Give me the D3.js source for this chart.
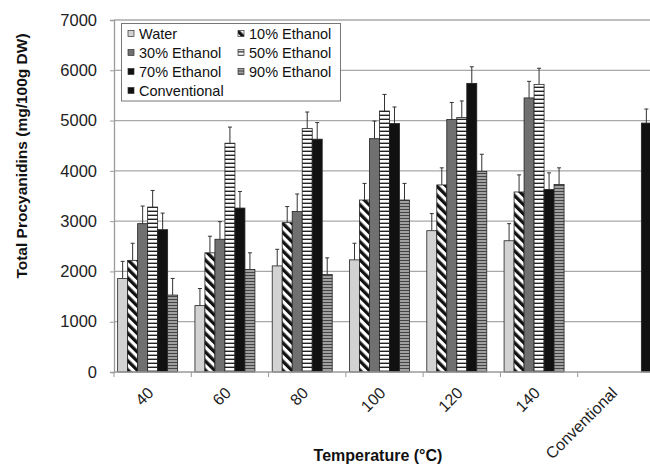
<!DOCTYPE html>
<html>
<head>
<meta charset="utf-8">
<script src="https://cdn.jsdelivr.net/npm/d3@7"></script>
<style>
  body { margin: 0; background: #fff; }
  svg { display: block; font-family: "Liberation Sans", Arial, sans-serif; }
</style>
</head>
<body>
<svg id="chart"></svg>
<script>
const W = 650, H = 465;

// data
const categories = ["40", "60", "80", "100", "120", "140", "Conventional"];
const seriesNames = ["Water", "10% Ethanol", "30% Ethanol", "50% Ethanol", "70% Ethanol", "90% Ethanol", "Conventional"];
const water     = [1860, 1320, 2110, 2230, 2810, 2610, null];
const eth10     = [2220, 2370, 2970, 3420, 3720, 3580, null];
const eth30     = [2950, 2640, 3190, 4640, 5020, 5450, null];
const eth50     = [3280, 4550, 4840, 5190, 5060, 5720, null];
const eth70     = [2830, 3260, 4630, 4940, 5740, 3630, null];
const eth90     = [1530, 2040, 1940, 3420, 3990, 3730, null];
const conv      = [null, null, null, null, null, null, 4950];
const waterErr  = [340, 340, 330, 330, 340, 340, null];
const eth10Err  = [340, 330, 320, 330, 340, 340, null];
const eth30Err  = [350, 350, 350, 350, 340, 330, null];
const eth50Err  = [330, 320, 330, 330, 330, 320, null];
const eth70Err  = [330, 330, 330, 330, 330, 330, null];
const eth90Err  = [330, 330, 330, 330, 340, 330, null];
const convErr   = [null, null, null, null, null, null, 280];
const yTicks = [0, 1000, 2000, 3000, 4000, 5000, 6000, 7000];

const values = [water, eth10, eth30, eth50, eth70, eth90, conv];
const errors = [waterErr, eth10Err, eth30Err, eth50Err, eth70Err, eth90Err, convErr];

const fills = ["#d2d2d2", "url(#diag)", "#707070", "url(#hz50)", "#111", "url(#hz90)", "#111"];

const svg = d3.select("#chart").attr("width", W).attr("height", H);

// patterns
const defs = svg.append("defs");
const pd = defs.append("pattern").attr("id", "diag").attr("patternUnits", "userSpaceOnUse")
  .attr("width", 6.5).attr("height", 6.5).attr("patternTransform", "rotate(-45)");
pd.append("rect").attr("width", 6.5).attr("height", 6.5).attr("fill", "#fff");
pd.append("rect").attr("width", 3.3).attr("height", 6.5).attr("fill", "#111");

const p5 = defs.append("pattern").attr("id", "hz50").attr("patternUnits", "userSpaceOnUse")
  .attr("width", 4).attr("height", 4);
p5.append("rect").attr("width", 4).attr("height", 4).attr("fill", "#fff");
p5.append("rect").attr("y", 2.6).attr("width", 4).attr("height", 1.4).attr("fill", "#222");

const p9 = defs.append("pattern").attr("id", "hz90").attr("patternUnits", "userSpaceOnUse")
  .attr("width", 3).attr("height", 3);
p9.append("rect").attr("width", 3).attr("height", 3).attr("fill", "#a0a0a0");
p9.append("rect").attr("y", 2).attr("width", 3).attr("height", 1).attr("fill", "#444");

// scales
const x0 = d3.scaleBand().domain(categories).range([114, 655]).padding(0);
const x1 = d3.scaleBand().domain(seriesNames).range([0, x0.bandwidth()]).paddingInner(0).paddingOuter(0.365);
const y = d3.scaleLinear().domain([0, 7000]).range([372, 20]);

// gridlines
svg.append("g").selectAll("line").data(yTicks.slice(1)).join("line")
  .attr("x1", 114).attr("x2", 655)
  .attr("y1", d => y(d)).attr("y2", d => y(d))
  .attr("stroke", "#a8a8a8").attr("stroke-width", 1.3);

// y axis
const yAxis = svg.append("g").attr("transform", "translate(114,0)")
  .call(d3.axisLeft(y).tickValues(yTicks).tickFormat(d3.format("d")).tickSize(4).tickPadding(13));
yAxis.select(".domain").attr("stroke", "#9a9a9a").attr("stroke-width", 1.3);
yAxis.selectAll(".tick line").attr("stroke", "#9a9a9a");
yAxis.selectAll("text").attr("font-size", 16.5).attr("fill", "#222")
  .attr("font-family", "'Liberation Sans', Arial, sans-serif");

// bars
const groups = svg.append("g").selectAll("g").data(categories).join("g")
  .attr("transform", d => `translate(${x0(d)},0)`);

const cells = groups.selectAll("g.cell")
  .data((c, ci) => seriesNames.map((s, si) => ({ s, si, v: values[si][ci], e: errors[si][ci] })).filter(d => d.v != null))
  .join("g").attr("class", "cell");

cells.append("line")
  .attr("x1", d => x1(d.s) + x1.bandwidth() / 2).attr("x2", d => x1(d.s) + x1.bandwidth() / 2)
  .attr("y1", d => y(d.v)).attr("y2", d => y(d.v + d.e))
  .attr("stroke", "#333").attr("stroke-width", 1);
cells.append("line")
  .attr("x1", d => x1(d.s) + x1.bandwidth() / 2 - 2).attr("x2", d => x1(d.s) + x1.bandwidth() / 2 + 2)
  .attr("y1", d => y(d.v + d.e)).attr("y2", d => y(d.v + d.e))
  .attr("stroke", "#333").attr("stroke-width", 1);
cells.append("rect")
  .attr("x", d => x1(d.s)).attr("width", x1.bandwidth())
  .attr("y", d => y(d.v)).attr("height", d => y(0) - y(d.v))
  .attr("fill", d => fills[d.si]).attr("stroke", "#222").attr("stroke-width", 0.8);

// x axis
const xAxis = svg.append("g").attr("transform", "translate(0,372)");
xAxis.append("line").attr("x1", 114).attr("x2", 655).attr("stroke", "#9a9a9a").attr("stroke-width", 1.3);
xAxis.selectAll("line.tk").data(categories.concat(["end"])).join("line").attr("class", "tk")
  .attr("x1", d => d === "end" ? 655 : x0(d)).attr("x2", d => d === "end" ? 655 : x0(d))
  .attr("y1", 0).attr("y2", 5).attr("stroke", "#9a9a9a");
xAxis.selectAll("text").data(categories).join("text")
  .attr("transform", d => `translate(${x0(d) + x0.bandwidth() / 2 + 2},22) rotate(-45)`)
  .attr("text-anchor", "end").attr("font-size", 16).attr("fill", "#222")
  .text(d => d);

// axis titles
svg.append("text").attr("x", 378).attr("y", 461).attr("text-anchor", "middle")
  .attr("font-size", 16).attr("font-weight", "bold").attr("fill", "#111")
  .text("Temperature (°C)");
svg.append("text").attr("transform", "translate(27,156) rotate(-90)").attr("text-anchor", "middle")
  .attr("font-size", 15.5).attr("font-weight", "bold").attr("fill", "#111")
  .text("Total Procyanidins (mg/100g DW)");

// legend
const lg = svg.append("g");
lg.append("rect").attr("x", 121.5).attr("y", 23.5).attr("width", 219).attr("height", 77.5)
  .attr("fill", "#fff").attr("stroke", "#777").attr("stroke-width", 1);
const items = lg.selectAll("g").data(seriesNames).join("g")
  .attr("transform", (d, i) => `translate(${i % 2 ? 238 : 128},${33.5 + Math.floor(i / 2) * 19})`);
items.append("rect").attr("x", 0).attr("y", -3).attr("width", 6).attr("height", 6)
  .attr("fill", (d, i) => fills[i]).attr("stroke", "#333").attr("stroke-width", 0.7);
items.append("text").attr("x", 11).attr("y", 5.3).attr("font-size", 14.5).attr("fill", "#111")
  .text(d => d);
</script>
</body>
</html>
